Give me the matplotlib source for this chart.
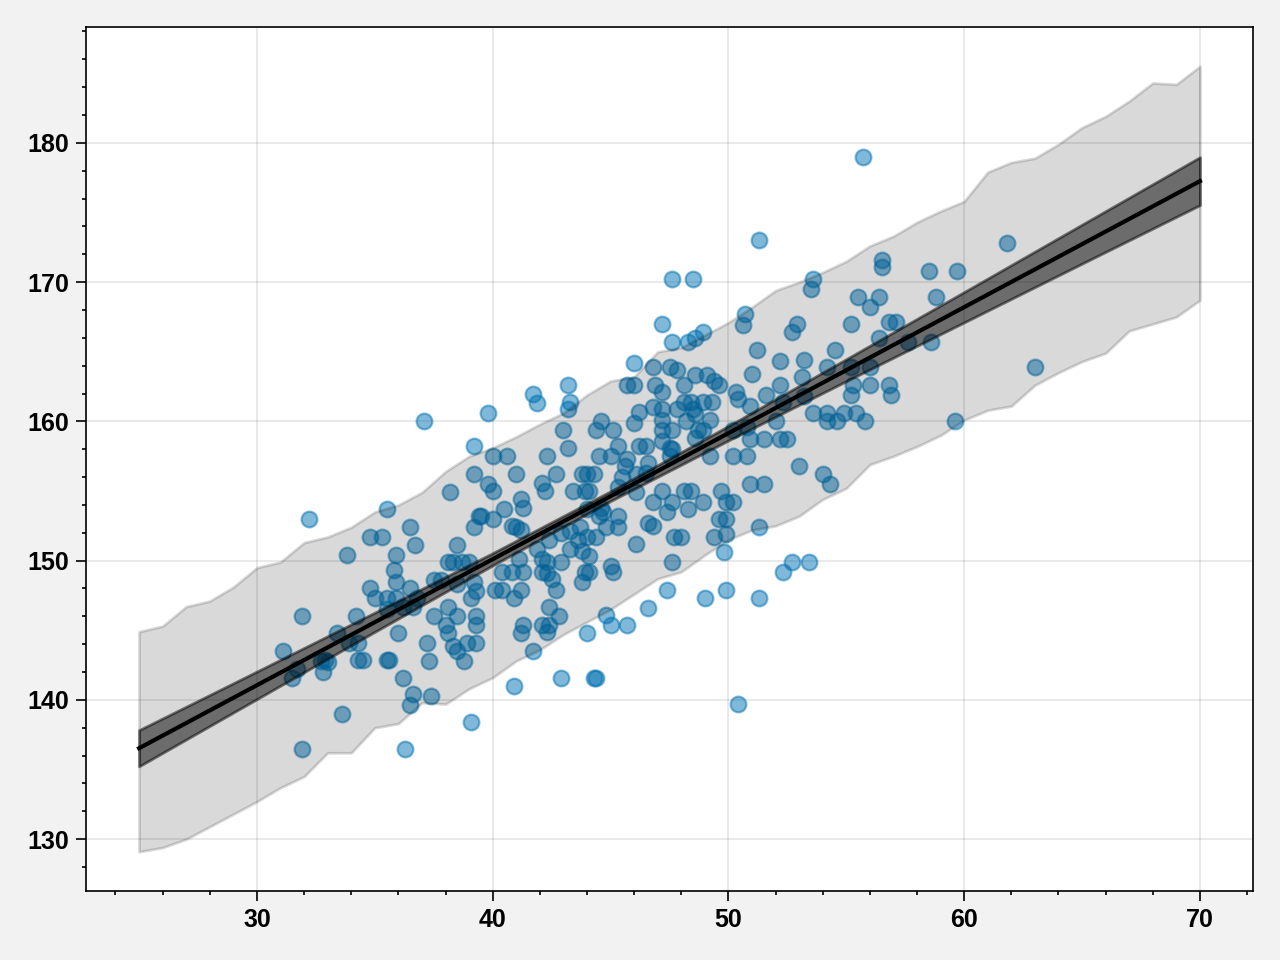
import numpy as np
import matplotlib.pyplot as plt
from matplotlib.ticker import MultipleLocator

plt.rcParams['font.family'] = ['Liberation Sans', 'DejaVu Sans']

# observed adults: weight (kg), height (cm)
weight = [
    37.1, 32.2, 39.2, 39.2, 38.2, 35.5, 36.5, 34.8, 35.3, 36.7, 38.5, 33.8, 35.9, 39.2, 39.4,
    38.1, 38.3, 38.7, 39.0, 35.8, 35.9, 36.5, 34.8, 35.0, 35.5, 35.9, 36.8, 36.2, 36.6, 35.5,
    31.9, 34.2, 37.5, 37.8, 38.5, 39.2, 39.3, 39.1, 38.1, 37.5, 38.5, 39.3, 38.0, 38.1, 39.3,
    33.4, 33.9, 34.3, 36.0, 37.2, 38.3, 38.5, 38.9, 39.3, 38.8, 31.1, 32.9, 32.7, 33.0, 34.3,
    34.5, 35.5, 35.6, 37.3, 31.7, 32.8, 31.5, 36.2, 36.6, 37.4, 36.5, 33.6, 39.1, 31.9, 36.3,
    46.0, 46.8, 47.5, 47.8, 43.2, 45.7, 46.0, 46.9, 47.2, 41.7, 41.9, 43.3, 43.2, 39.8, 46.2,
    46.8, 47.2, 47.8, 46.0, 44.6, 44.4, 45.1, 43.0, 47.2, 47.2, 47.6, 43.2, 45.3, 46.2, 46.5,
    47.2, 47.5, 40.0, 40.6, 42.3, 44.5, 45.0, 45.7, 45.6, 46.6, 47.5, 41.0, 42.7, 44.0, 44.3,
    43.8, 45.5, 46.1, 46.5, 39.8, 40.0, 42.1, 42.2, 43.4, 43.9, 44.1, 45.3, 46.1, 46.8, 47.2,
    47.6, 41.2, 41.3, 40.5, 40.0, 39.5, 44.6, 44.7, 45.3, 44.0, 44.5, 47.4, 40.8, 41.0, 41.2,
    43.7, 43.3, 44.8, 45.3, 46.6, 46.8, 47.7, 42.9, 42.4, 43.6, 44.0, 44.4, 46.1, 41.9, 43.3,
    43.8, 44.1, 41.1, 42.1, 42.3, 42.9, 45.0, 47.6,
    45.1, 43.9, 44.1, 43.8, 42.1, 42.3, 42.5, 42.7, 41.3, 40.8, 40.4, 40.1, 40.4, 41.2, 40.9,
    42.4, 42.8, 42.4, 42.1, 42.3, 41.3, 41.2, 41.7, 44.8, 45.0, 45.7, 44.0, 46.6, 47.4, 40.9,
    42.9, 44.3, 44.4,
    47.6, 48.5, 47.2, 47.6, 55.7, 51.3, 53.6, 53.5, 55.5, 56.4, 56.0, 55.2, 56.5, 56.5, 50.7,
    50.6, 52.9, 52.7, 48.9, 48.6, 48.3, 51.2, 54.5, 52.2, 53.2, 54.2, 51.0,
    48.6, 48.1, 49.1, 49.4, 49.6, 53.1, 55.2, 55.3, 56.0, 55.2, 50.3, 50.4, 51.6, 52.2, 53.2,
    52.3, 48.1, 48.4, 48.9, 49.3, 48.5, 48.6, 50.9, 53.6, 54.2, 54.2, 54.9, 55.4, 54.6, 55.8,
    48.2, 49.2, 48.9, 48.7, 50.2, 50.8, 52.0, 50.9, 51.5, 52.2, 52.5, 48.6, 47.6, 49.2, 50.2,
    50.8, 53.0, 54.0, 54.3, 48.1, 48.4, 49.7, 50.9, 51.5, 48.9, 49.9, 50.2, 48.3, 49.6, 49.9,
    51.3, 48.0, 49.4, 49.9, 49.8, 52.3, 52.7, 53.4,
    49.0, 49.9, 51.3, 50.4,
    61.8, 58.5, 59.7, 58.8, 56.8, 57.1, 56.4, 57.6, 58.6, 56.0, 63.0, 56.8, 56.9, 59.6,
]
height = [
    160.0, 153.0, 158.2, 156.2, 154.9, 153.7, 152.4, 151.7, 151.7, 151.1, 151.1, 150.4, 150.4, 152.4, 153.2,
    149.9, 149.9, 149.9, 149.9, 149.3, 148.5, 148.0, 148.0, 147.3, 147.3, 147.3, 147.3, 146.7, 146.7, 146.5,
    146.0, 146.0, 148.6, 148.6, 148.3, 148.5, 147.8, 147.3, 146.7, 146.0, 146.0, 146.0, 145.4, 144.8, 145.4,
    144.8, 144.1, 144.1, 144.8, 144.1, 143.9, 143.5, 144.1, 144.1, 142.8, 143.5, 142.9, 142.8, 142.7, 142.9,
    142.9, 142.9, 142.9, 142.8, 142.2, 142.0, 141.6, 141.6, 140.4, 140.3, 139.6, 139.0, 138.4, 136.5, 136.5,
    164.2, 163.9, 163.9, 163.7, 162.6, 162.6, 162.6, 162.6, 162.1, 162.0, 161.3, 161.4, 160.9, 160.6, 160.7,
    161.0, 160.9, 160.9, 159.9, 160.0, 159.4, 159.4, 159.4, 160.1, 159.4, 159.4, 158.1, 158.2, 158.2, 158.2,
    158.6, 158.1, 157.5, 157.5, 157.5, 157.5, 157.5, 157.3, 156.8, 157.0, 157.5, 156.2, 156.2, 156.2, 156.2,
    156.2, 156.0, 156.2, 156.3, 155.5, 155.0, 155.6, 155.0, 155.0, 155.0, 155.0, 155.3, 154.9, 154.2, 155.0,
    154.2, 154.4, 153.8, 153.7, 153.0, 153.2, 153.8, 153.5, 153.2, 153.7, 153.2, 153.5, 152.5, 152.4, 152.2,
    152.4, 152.1, 152.4, 152.4, 152.7, 152.5, 151.7, 152.0, 151.5, 151.5, 151.7, 151.7, 151.2, 150.8, 150.8,
    150.7, 150.3, 150.1, 150.1, 149.9, 149.9, 149.6, 149.9,
    149.2, 149.2, 149.2, 148.5, 149.2, 149.1, 148.7, 147.9, 149.2, 149.2, 149.2, 147.9, 147.9, 147.9, 147.3,
    146.7, 146.0, 145.4, 145.4, 144.9, 145.4, 144.8, 143.5, 146.1, 145.4, 145.4, 144.8, 146.6, 147.9, 141.0,
    141.6, 141.6, 141.6,
    170.2, 170.2, 167.0, 165.7, 179.0, 173.0, 170.2, 169.5, 168.9, 168.9, 168.2, 167.0, 171.6, 171.1, 167.7,
    166.9, 167.0, 166.4, 166.4, 166.0, 165.7, 165.1, 165.1, 164.3, 164.4, 163.9, 163.4,
    163.3, 162.6, 163.3, 162.9, 162.6, 163.2, 163.9, 162.6, 162.6, 161.9, 162.1, 161.6, 161.9, 162.6, 161.8,
    161.4, 161.4, 161.4, 161.4, 161.4, 160.9, 160.5, 161.1, 160.6, 160.6, 160.0, 160.6, 160.6, 160.0, 160.0,
    160.0, 160.1, 159.4, 159.4, 159.4, 159.6, 160.0, 158.7, 158.7, 158.7, 158.7, 158.8, 158.0, 157.5, 157.5,
    157.5, 156.8, 156.2, 155.5, 155.0, 155.0, 155.0, 155.5, 155.5, 154.2, 154.2, 154.2, 153.7, 153.0, 153.0,
    152.4, 151.7, 151.7, 151.9, 150.6, 149.2, 149.9, 149.9,
    147.3, 147.9, 147.3, 139.7,
    172.8, 170.8, 170.8, 168.9, 167.1, 167.1, 166.0, 165.7, 165.7, 163.9, 163.9, 162.6, 161.9, 160.0,
]

# posterior mean line and 89% interval of mu
line_w = [25, 70]
line_h = [136.53, 177.25]
mu_w = [25, 30, 35, 40, 45, 50, 55, 60, 65, 70]
mu_lo = [135.23, 140.06, 144.89, 149.66, 154.28, 158.63, 162.89, 167.11, 171.33, 175.53]
mu_hi = [137.83, 142.04, 146.27, 150.54, 154.98, 159.67, 164.47, 169.29, 174.13, 178.97]

# 89% interval of simulated heights
pred_w = np.arange(25, 71)
pred_lo = [129.1, 129.4, 130.0, 130.9, 131.8, 132.7, 133.7, 134.5, 136.2, 136.2, 138.0, 138.3,
           139.8, 139.7, 140.8, 141.6, 142.8, 143.6, 144.7, 145.6, 146.5, 147.6, 148.7, 149.2,
           150.4, 151.5, 152.2, 152.5, 153.2, 154.4, 155.2, 156.9, 157.5, 158.2, 159.0, 160.1,
           160.8, 161.1, 162.6, 163.5, 164.3, 164.9, 166.5, 167.0, 167.5, 168.7]
pred_hi = [144.9, 145.3, 146.7, 147.1, 148.1, 149.5, 149.9, 151.3, 151.7, 152.4, 153.5, 154.0,
           154.9, 156.4, 157.5, 158.1, 158.9, 159.8, 160.6, 161.9, 162.9, 163.2, 165.0, 165.3,
           166.2, 167.1, 168.2, 169.4, 170.0, 170.7, 171.5, 172.6, 173.3, 174.3, 175.1, 175.8,
           177.9, 178.6, 178.9, 179.9, 181.1, 181.9, 183.0, 184.3, 184.2, 185.5]

fig = plt.figure(figsize=(6.4, 4.8), dpi=200, facecolor='#f2f2f2')
ax = fig.add_axes([0.0672, 0.0719, 0.9117, 0.9])

ax.scatter(weight, height, s=32, color='#0072B2', alpha=0.5, linewidths=0.8)
ax.plot(line_w, line_h, color='k', lw=1.5)
ax.fill_between(mu_w, mu_lo, mu_hi, color='k', alpha=0.5)
ax.fill_between(pred_w, pred_lo, pred_hi, color='k', alpha=0.15)

ax.set_axisbelow(True)
ax.grid(True, which='major', color='k', alpha=0.1, lw=0.6)
ax.xaxis.set_major_locator(MultipleLocator(10))
ax.xaxis.set_minor_locator(MultipleLocator(2))
ax.yaxis.set_major_locator(MultipleLocator(10))
ax.yaxis.set_minor_locator(MultipleLocator(2))
ax.tick_params(which='major', length=3.6, width=0.6, pad=2.5, labelsize=9)
ax.tick_params(which='minor', length=1.6, width=0.6)
for lab in ax.get_xticklabels() + ax.get_yticklabels():
    lab.set_fontweight('bold')
for sp in ax.spines.values():
    sp.set_linewidth(0.6)

fig.savefig('out.png', dpi=200, facecolor=fig.get_facecolor())
